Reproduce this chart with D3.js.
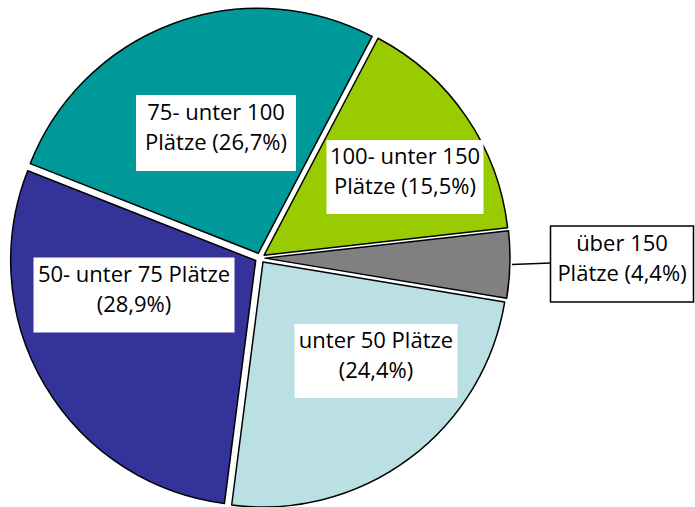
<!DOCTYPE html>
<html>
<head>
<meta charset="utf-8">
<script src="https://cdn.jsdelivr.net/npm/d3@7"></script>
<style>
  body { margin: 0; background: #fff; }
  text { font-family: "Open Sans", "Noto Sans", sans-serif; font-size: 22px; fill: #000; }
</style>
</head>
<body>
<div id="chart"></div>
<script>
// data
var categories = ["100- unter 150 Plätze", "über 150 Plätze", "unter 50 Plätze", "50- unter 75 Plätze", "75- unter 100 Plätze"];
var shares = [15.5, 4.4, 24.4, 28.9, 26.7];
var labelLines = [
  ["100- unter 150", "Plätze (15,5%)"],
  ["über 150", "Plätze (4,4%)"],
  ["unter 50 Plätze", "(24,4%)"],
  ["50- unter 75 Plätze", "(28,9%)"],
  ["75- unter 100", "Plätze (26,7%)"]
];
var colors = ["#99cc00", "#808080", "#bae0e3", "#333399", "#009999"];

// layout
var svgWidth = 695, svgHeight = 507;
var cx = 260, cy = 258, radius = 245, explode = 5;
// label box centres [x, y, w, h]
var boxes = [
  [405, 177, 157, 74],
  [622, 264, 143, 76],
  [376, 361, 163, 74],
  [134, 295, 201, 75],
  [216, 133, 160, 76]
];

var svg = d3.select("#chart")
  .append("svg")
  .attr("width", svgWidth)
  .attr("height", svgHeight);

var g = svg.append("g")
  .attr("transform", `translate(${cx}, ${cy})`);

var pie = d3.pie()
  .sort(null)
  .value(d => d)
  .startAngle(27.7 * Math.PI / 180)
  .endAngle((27.7 + 360) * Math.PI / 180);

var arc = d3.arc().innerRadius(0).outerRadius(radius);
var arcs = pie(shares);

g.selectAll("path")
  .data(arcs)
  .enter()
  .append("path")
  .attr("transform", function(d) {
    var a = (d.startAngle + d.endAngle) / 2;
    return `translate(${explode * Math.sin(a)}, ${-explode * Math.cos(a)})`;
  })
  .attr("d", arc)
  .style("fill", (d, i) => colors[i])
  .style("stroke", "#000")
  .style("stroke-width", 1.5)
  .style("stroke-linejoin", "round");

// leader line for small slice
var small = arcs[1];
var aMid = (small.startAngle + small.endAngle) / 2;
var lx = (explode + radius + 2) * Math.sin(aMid);
var ly = -(explode + radius + 2) * Math.cos(aMid);
svg.append("line")
  .attr("x1", cx + lx)
  .attr("y1", cy + ly)
  .attr("x2", boxes[1][0] - boxes[1][2] / 2)
  .attr("y2", boxes[1][1] - 1)
  .style("stroke", "#000")
  .style("stroke-width", 1.5);

// labels
var labels = svg.selectAll("g.label")
  .data(labelLines)
  .enter()
  .append("g")
  .attr("class", "label")
  .attr("transform", (d, i) => `translate(${boxes[i][0]}, ${boxes[i][1]})`);

labels.append("rect")
  .attr("x", (d, i) => -boxes[i][2] / 2)
  .attr("y", (d, i) => -boxes[i][3] / 2)
  .attr("width", (d, i) => boxes[i][2])
  .attr("height", (d, i) => boxes[i][3])
  .style("fill", "#fff")
  .style("stroke", (d, i) => i === 1 ? "#000" : "none")
  .style("stroke-width", 1.5);

labels.each(function(lines) {
  var t = d3.select(this).append("text")
    .style("text-anchor", "middle");
  lines.forEach(function(line, j) {
    t.append("tspan")
      .attr("x", 0)
      .attr("y", j === 0 ? -13 : 17)
      .text(line);
  });
});
</script>
</body>
</html>
